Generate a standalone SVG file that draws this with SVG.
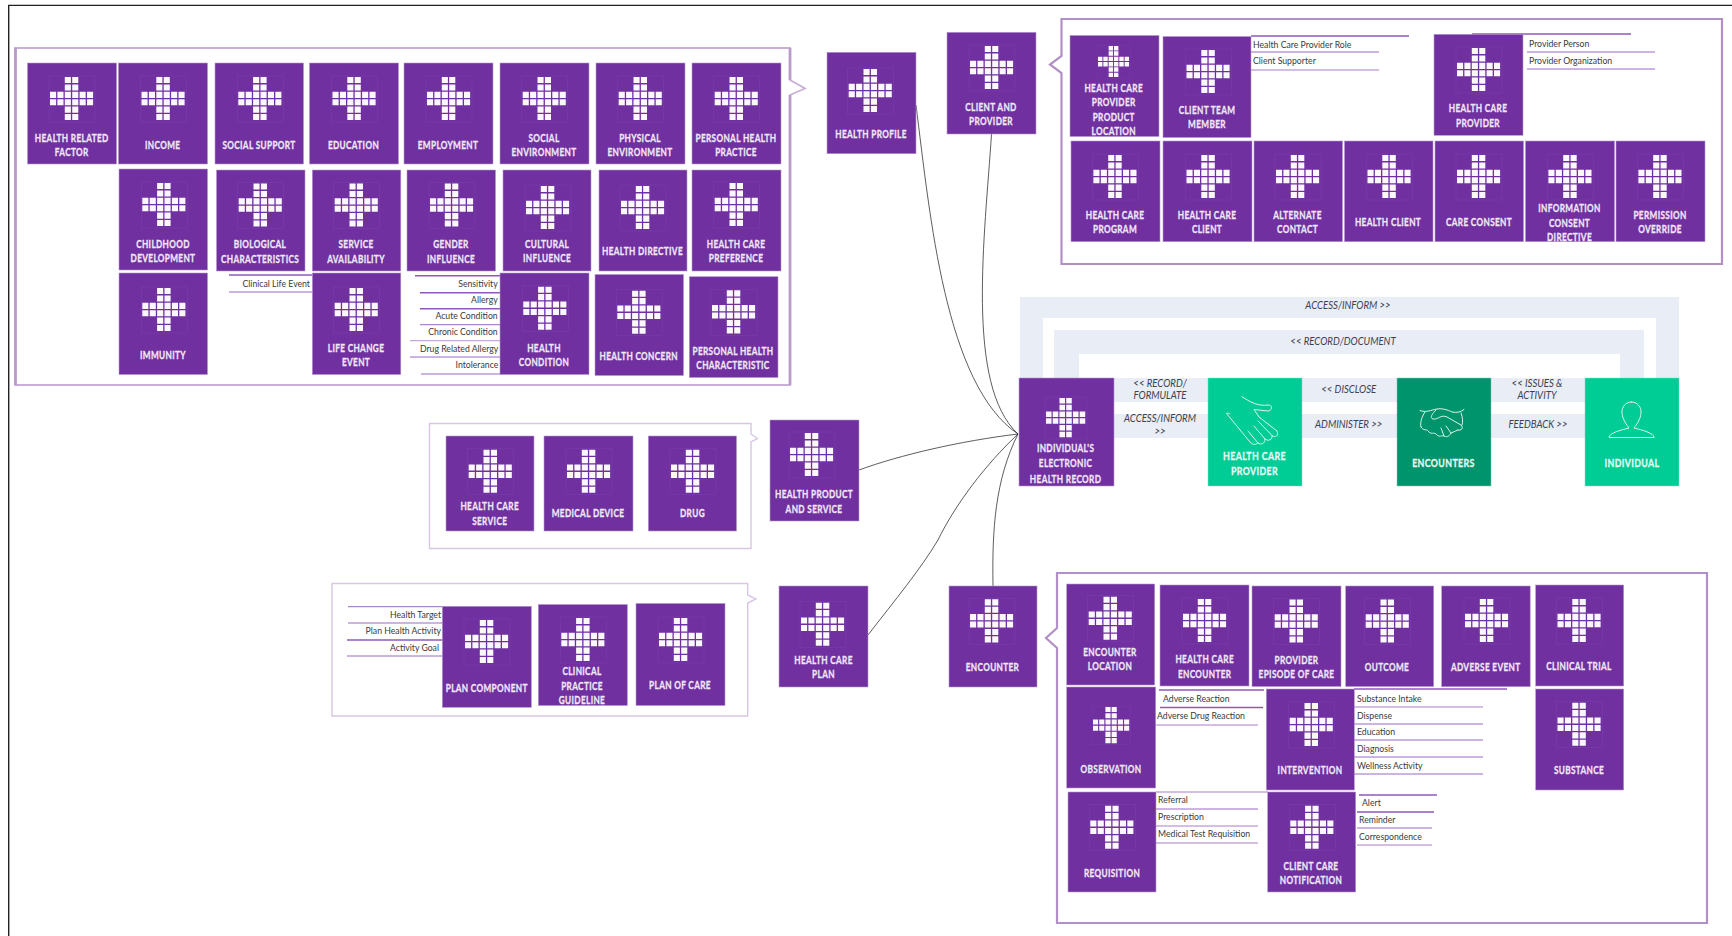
<svg xmlns="http://www.w3.org/2000/svg" width="1732" height="936" viewBox="0 0 1732 936">
<style>
text{font-family:Lato,"Open Sans","Liberation Sans",sans-serif}
.n{fill:#7030a0;stroke:#b598cc;stroke-width:.6}
.g1{fill:#00cc96;stroke:#7fe0c4;stroke-width:.5}
.g2{fill:#00946c;stroke:#7fc9b3;stroke-width:.5}
.t{font-size:11.4px;font-weight:700;fill:#f0e8f6;stroke:#f0e8f6;stroke-width:.3;letter-spacing:.5px;text-anchor:middle}
.t2{font-size:11.6px;font-weight:700;fill:#e8f8f2;stroke:#e8f8f2;stroke-width:.3;letter-spacing:.5px;text-anchor:middle}
.l{font-size:8.7px;fill:#3a3a3a}
.r{text-anchor:end}
.i{font-size:11.3px;font-style:italic;fill:#3b4150;text-anchor:middle}
.ln{stroke:#9b68c4;stroke-width:1;fill:none}
.lt{stroke:#8f58bb;stroke-width:1.6;fill:none}
.ll{stroke:#c6a9dc;stroke-width:1.3;fill:none}
.f1{fill:none;stroke:#b28fc6;stroke-width:2.2}
.f2{fill:none;stroke:#d9c6e3;stroke-width:1.4}
.band{fill:#e9edf6}
.c{fill:none;stroke:#333;stroke-width:.8}
.ic{fill:none;stroke:#d8f5ea;stroke-width:1;stroke-linecap:round;stroke-linejoin:round}
</style>
<defs>
<g id="x">
<rect x="-1" y="-1" width="46" height="46" fill="none" stroke="#7a3fae" stroke-width=".5"/>
<path fill="#fbf8fd" d="M14.8 0h6.100v6.100h-6.100zM22.2 0h6.100v6.100h-6.100zM14.8 7.4h6.100v6.100h-6.100zM22.2 7.4h6.100v6.100h-6.100zM0 14.8h6.100v6.100h-6.100zM7.4 14.8h6.100v6.100h-6.100zM14.8 14.8h6.100v6.100h-6.100zM22.2 14.8h6.100v6.100h-6.100zM29.6 14.8h6.100v6.100h-6.100zM37 14.8h6.100v6.100h-6.100zM0 22.2h6.100v6.100h-6.100zM7.4 22.2h6.100v6.100h-6.100zM14.8 22.2h6.100v6.100h-6.100zM22.2 22.2h6.100v6.100h-6.100zM29.6 22.2h6.100v6.100h-6.100zM37 22.2h6.100v6.100h-6.100zM14.8 29.6h6.100v6.100h-6.100zM22.2 29.6h6.100v6.100h-6.100zM14.8 37h6.100v6.100h-6.100zM22.2 37h6.100v6.100h-6.100z"/>
</g>
</defs>
<rect width="1732" height="936" fill="#fff"/>
<path d="M8.7 936V5.4H1732" fill="none" stroke="#222" stroke-width="1.4"/>

<g id="frames">
<path d="M15 48H790V80L805 88.5L790 95V385H15Z" fill="none" stroke="#c9afd8" stroke-width="1.8"/>
<path d="M15.500 48V385M790 48V80M790 95V385" stroke="#b99ccb" stroke-width="2.8" fill="none"/>
<path class="f2" d="M429.5 423.5H751V434L757.5 438.7L751 442V548.5H429.5Z"/>
<path class="f2" d="M332 583.5H747.7V595L756 599L747.7 603V716H332Z"/>
<path class="f1" d="M1061.5 19H1722V264H1061.5V73L1050 64.5L1061.5 56Z"/>
<path class="f1" d="M1057 573H1707V923H1057V648L1046 638L1057 628Z"/>
</g>

<g id="bands">
<path class="band" d="M1020 297H1679V378H1656V318H1043V378H1020Z"/>
<path class="band" d="M1054 330H1644V378H1620V354H1079V378H1054Z"/>
<rect class="band" x="1114" y="378" width="94" height="24"/>
<rect class="band" x="1114" y="414" width="94" height="24"/>
<rect class="band" x="1302" y="378" width="95" height="24"/>
<rect class="band" x="1302" y="414" width="95" height="24"/>
<rect class="band" x="1491" y="378" width="94" height="24"/>
<rect class="band" x="1491" y="414" width="94" height="24"/>
<g id="band-labels">
<text class="i" transform="translate(1348 309) scale(.85 1)">ACCESS/INFORM &gt;&gt;</text>
<text class="i" transform="translate(1343 345) scale(.85 1)">&lt;&lt; RECORD/DOCUMENT</text>
<text class="i" transform="translate(1160 386.7) scale(.85 1)">&lt;&lt; RECORD/</text>
<text class="i" transform="translate(1160 399) scale(.85 1)">FORMULATE</text>
<text class="i" transform="translate(1160 422) scale(.85 1)">ACCESS/INFORM</text>
<text class="i" transform="translate(1160 434.7) scale(.85 1)">&gt;&gt;</text>
<text class="i" transform="translate(1348.7 393) scale(.85 1)">&lt;&lt; DISCLOSE</text>
<text class="i" transform="translate(1348.7 428) scale(.85 1)">ADMINISTER &gt;&gt;</text>
<text class="i" transform="translate(1537 386.7) scale(.85 1)">&lt;&lt; ISSUES &amp;</text>
<text class="i" transform="translate(1537 399) scale(.85 1)">ACTIVITY</text>
<text class="i" transform="translate(1538 428) scale(.85 1)">FEEDBACK &gt;&gt;</text>
</g>
</g>

<g id="connectors">
<path class="c" d="M916 105C930 215 945 385 1018 434"/>
<path class="c" d="M991.5 134C985 235 965 385 1018 434"/>
<path class="c" d="M859 470C900 455 960 441 1018 434"/>
<path class="c" d="M868 635C895 600 920 570 938 540C955 505 985 465 1018 434"/>
<path class="c" d="M993 586C992 530 995 480 1018 434"/>
</g>

<g id="lists">
<path class="lt" d="M229 275H312"/><path class="ln" d="M229 292H312"/>
<text class="l r" x="310" y="287">Clinical Life Event</text>
<path class="lt" d="M415 275.7H500"/><path class="lt" d="M420 292.7H500M420 308.7H500"/><path class="ln" d="M420 324.7H500"/><path class="ll" d="M410 340.7H500"/><path class="ln" d="M410 357H500M421 374H500"/>
<text class="l r" x="497.7" y="287">Sensitivity</text>
<text class="l r" x="497.7" y="303">Allergy</text>
<text class="l r" x="497.7" y="319">Acute Condition</text>
<text class="l r" x="497.7" y="335">Chronic Condition</text>
<text class="l r" x="498.3" y="352">Drug Related Allergy</text>
<text class="l r" x="498.3" y="368">Intolerance</text>
<path class="ln" d="M348 606.7H442M348 623H442M347 656H442"/><path class="lt" d="M347 640H442"/>
<text class="l r" x="441" y="617.7">Health Target</text>
<text class="l r" x="441" y="634">Plan Health Activity</text>
<text class="l r" x="439" y="651">Activity Goal</text>
<path class="lt" d="M1251 36H1409"/><path class="ln" d="M1251 52H1379"/><path class="ll" d="M1251 70H1379"/>
<text class="l" x="1253" y="48">Health Care Provider Role</text>
<text class="l" x="1253" y="64">Client Supporter</text>
<path class="lt" d="M1472 34H1631"/><path class="ln" d="M1527 52H1655M1527 69H1655"/>
<text class="l" x="1529" y="47">Provider Person</text>
<text class="l" x="1529" y="64">Provider Organization</text>
<path class="lt" d="M1159 690H1264M1160 707.5H1263"/><path class="ll" d="M1156 725H1258"/>
<text class="l" x="1163" y="702">Adverse Reaction</text>
<text class="l" x="1157" y="719">Adverse Drug Reaction</text>
<path class="lt" d="M1354 689H1507"/><path class="ll" d="M1354 707H1483"/><path class="ln" d="M1354 724H1483M1354 740H1483M1354 757H1483M1354 774H1483"/>
<text class="l" x="1357" y="702">Substance Intake</text>
<text class="l" x="1357" y="719">Dispense</text>
<text class="l" x="1357" y="735">Education</text>
<text class="l" x="1357" y="752">Diagnosis</text>
<text class="l" x="1357" y="769">Wellness Activity</text>
<path class="ll" d="M1156 792H1268"/><path class="ln" d="M1156 809H1258"/><path class="ll" d="M1156 826H1258M1156 843H1258"/>
<text class="l" x="1158" y="803">Referral</text>
<text class="l" x="1158" y="820">Prescription</text>
<text class="l" x="1158" y="837">Medical Test Requisition</text>
<path class="lt" d="M1359 795H1437" stroke-width="2"/><path class="lt" d="M1357 812H1434"/><path class="ln" d="M1357 828H1432"/><path class="ll" d="M1357 845H1432"/>
<text class="l" x="1362" y="806">Alert</text>
<text class="l" x="1359" y="823">Reminder</text>
<text class="l" x="1359" y="840">Correspondence</text>
</g>

<g id="n-health-related-factor"><rect class="n" x="27.5" y="63" width="89" height="101"/><use href="#x" x="50" y="77"/><text class="t" transform="translate(71.7 141.7) scale(.72 1)">HEALTH RELATED</text><text class="t" transform="translate(71.7 156) scale(.72 1)">FACTOR</text></g>
<g id="n-income"><rect class="n" x="118.5" y="63" width="89" height="101"/><use href="#x" x="141.5" y="77"/><text class="t" transform="translate(162.7 149) scale(.72 1)">INCOME</text></g>
<g id="n-social-support"><rect class="n" x="215" y="63" width="88.5" height="101"/><use href="#x" x="238.3" y="77"/><text class="t" transform="translate(259 149) scale(.72 1)">SOCIAL SUPPORT</text></g>
<g id="n-education"><rect class="n" x="309.5" y="63" width="89" height="101"/><use href="#x" x="332.5" y="77"/><text class="t" transform="translate(353.5 149) scale(.72 1)">EDUCATION</text></g>
<g id="n-employment"><rect class="n" x="404" y="63" width="89" height="101"/><use href="#x" x="427" y="77"/><text class="t" transform="translate(448 149) scale(.72 1)">EMPLOYMENT</text></g>
<g id="n-social-environment"><rect class="n" x="500" y="63" width="89" height="101"/><use href="#x" x="522.7" y="77"/><text class="t" transform="translate(544 141.7) scale(.72 1)">SOCIAL</text><text class="t" transform="translate(544 156) scale(.72 1)">ENVIRONMENT</text></g>
<g id="n-physical-environment"><rect class="n" x="596" y="63" width="89" height="101"/><use href="#x" x="618.7" y="77"/><text class="t" transform="translate(640 141.7) scale(.72 1)">PHYSICAL</text><text class="t" transform="translate(640 156) scale(.72 1)">ENVIRONMENT</text></g>
<g id="n-personal-health-practice"><rect class="n" x="692" y="63" width="89" height="101"/><use href="#x" x="714.7" y="77"/><text class="t" transform="translate(736 141.7) scale(.72 1)">PERSONAL HEALTH</text><text class="t" transform="translate(736 156) scale(.72 1)">PRACTICE</text></g>

<g id="n-childhood-development"><rect class="n" x="119" y="169" width="88.5" height="101"/><use href="#x" x="142.3" y="183"/><text class="t" transform="translate(163 248) scale(.72 1)">CHILDHOOD</text><text class="t" transform="translate(163 262) scale(.72 1)">DEVELOPMENT</text></g>
<g id="n-biological-characteristics"><rect class="n" x="216.5" y="170" width="88.5" height="101"/><use href="#x" x="238.7" y="183.5"/><text class="t" transform="translate(260 248.3) scale(.72 1)">BIOLOGICAL</text><text class="t" transform="translate(260 262.5) scale(.72 1)">CHARACTERISTICS</text></g>
<g id="n-service-availability"><rect class="n" x="312.3" y="170" width="88.5" height="101"/><use href="#x" x="334.7" y="183.5"/><text class="t" transform="translate(356 248.3) scale(.72 1)">SERVICE</text><text class="t" transform="translate(356 262.5) scale(.72 1)">AVAILABILITY</text></g>
<g id="n-gender-influence"><rect class="n" x="407" y="170" width="88.5" height="101"/><use href="#x" x="430" y="183.5"/><text class="t" transform="translate(451 248.3) scale(.72 1)">GENDER</text><text class="t" transform="translate(451 262.5) scale(.72 1)">INFLUENCE</text></g>
<g id="n-cultural-influence"><rect class="n" x="503" y="170" width="88" height="101"/><use href="#x" x="526" y="186"/><text class="t" transform="translate(547 248) scale(.72 1)">CULTURAL</text><text class="t" transform="translate(547 262.3) scale(.72 1)">INFLUENCE</text></g>
<g id="n-health-directive"><rect class="n" x="599" y="170" width="88" height="101"/><use href="#x" x="621" y="186"/><text class="t" transform="translate(642.5 255) scale(.72 1)">HEALTH DIRECTIVE</text></g>
<g id="n-health-care-preference"><rect class="n" x="692" y="170" width="89" height="101"/><use href="#x" x="714.7" y="183"/><text class="t" transform="translate(736 248) scale(.72 1)">HEALTH CARE</text><text class="t" transform="translate(736 262.3) scale(.72 1)">PREFERENCE</text></g>

<g id="n-immunity"><rect class="n" x="119" y="273" width="88.5" height="101.5"/><use href="#x" x="142.3" y="288"/><text class="t" transform="translate(163 358.7) scale(.72 1)">IMMUNITY</text></g>
<g id="n-life-change-event"><rect class="n" x="312.3" y="273" width="88.5" height="101.5"/><use href="#x" x="334.7" y="288"/><text class="t" transform="translate(356 351.5) scale(.72 1)">LIFE CHANGE</text><text class="t" transform="translate(356 366) scale(.72 1)">EVENT</text></g>
<g id="n-health-condition"><rect class="n" x="500" y="273" width="89" height="101.5"/><use href="#x" x="523.3" y="286.7"/><text class="t" transform="translate(544 351.7) scale(.72 1)">HEALTH</text><text class="t" transform="translate(544 366) scale(.72 1)">CONDITION</text></g>
<g id="n-health-concern"><rect class="n" x="595" y="274.5" width="88.5" height="101"/><use href="#x" x="617.3" y="290.7"/><text class="t" transform="translate(638.7 360) scale(.72 1)">HEALTH CONCERN</text></g>
<g id="n-personal-health-characteristic"><rect class="n" x="689.3" y="276.7" width="88.7" height="100.8"/><use href="#x" x="712" y="290.3"/><text class="t" transform="translate(733 355) scale(.72 1)">PERSONAL HEALTH</text><text class="t" transform="translate(733 369) scale(.72 1)">CHARACTERISTIC</text></g>

<g id="n-health-care-service"><rect class="n" x="446" y="436" width="88" height="95"/><use href="#x" x="468.7" y="449.7"/><text class="t" transform="translate(489.7 510) scale(.72 1)">HEALTH CARE</text><text class="t" transform="translate(489.7 524.5) scale(.72 1)">SERVICE</text></g>
<g id="n-medical-device"><rect class="n" x="544" y="436" width="89" height="95"/><use href="#x" x="567" y="449.7"/><text class="t" transform="translate(588 516.7) scale(.72 1)">MEDICAL DEVICE</text></g>
<g id="n-drug"><rect class="n" x="648.3" y="436" width="88.2" height="95"/><use href="#x" x="671" y="449.7"/><text class="t" transform="translate(692.5 516.7) scale(.72 1)">DRUG</text></g>
<g id="n-health-product-and-service"><rect class="n" x="770" y="420" width="89" height="101"/><use href="#x" x="790" y="433"/><text class="t" transform="translate(814 498) scale(.72 1)">HEALTH PRODUCT</text><text class="t" transform="translate(814 512.7) scale(.72 1)">AND SERVICE</text></g>

<g id="n-plan-component"><rect class="n" x="442.3" y="606.3" width="89" height="101"/><use href="#x" x="465" y="620"/><text class="t" transform="translate(486.7 691.7) scale(.72 1)">PLAN COMPONENT</text></g>
<g id="n-clinical-practice-guideline"><rect class="n" x="538.3" y="604.5" width="89" height="101"/><use href="#x" x="561.3" y="618"/><text class="t" transform="translate(582 675) scale(.72 1)">CLINICAL</text><text class="t" transform="translate(582 690) scale(.72 1)">PRACTICE</text><text class="t" transform="translate(582 704) scale(.72 1)">GUIDELINE</text></g>
<g id="n-plan-of-care"><rect class="n" x="636" y="603.5" width="89" height="102"/><use href="#x" x="659" y="618"/><text class="t" transform="translate(680 689) scale(.72 1)">PLAN OF CARE</text></g>
<g id="n-health-care-plan"><rect class="n" x="779" y="586" width="89" height="101"/><use href="#x" x="801" y="602.7"/><text class="t" transform="translate(823.5 664) scale(.72 1)">HEALTH CARE</text><text class="t" transform="translate(823.5 678) scale(.72 1)">PLAN</text></g>
<g id="n-encounter"><rect class="n" x="949" y="586" width="88" height="101"/><use href="#x" x="970" y="599.3"/><text class="t" transform="translate(992.5 671) scale(.72 1)">ENCOUNTER</text></g>
<g id="n-health-profile"><rect class="n" x="827" y="52.3" width="89" height="101.4"/><use href="#x" x="848.7" y="69"/><text class="t" transform="translate(871 137.5) scale(.72 1)">HEALTH PROFILE</text></g>
<g id="n-client-and-provider"><rect class="n" x="947" y="32.3" width="89" height="101.7"/><use href="#x" x="970" y="46"/><text class="t" transform="translate(991 110.7) scale(.72 1)">CLIENT AND</text><text class="t" transform="translate(991 124.7) scale(.72 1)">PROVIDER</text></g>

<g id="n-health-care-provider-product-location"><rect class="n" x="1070" y="35.5" width="89" height="101"/><use href="#x" transform="translate(1098 46) scale(.72)"/><text class="t" transform="translate(1113.7 92) scale(.72 1)">HEALTH CARE</text><text class="t" transform="translate(1113.7 106.3) scale(.72 1)">PROVIDER</text><text class="t" transform="translate(1113.7 120.7) scale(.72 1)">PRODUCT</text><text class="t" transform="translate(1113.7 135) scale(.72 1)">LOCATION</text></g>
<g id="n-client-team-member"><rect class="n" x="1163" y="36.5" width="88" height="101"/><use href="#x" x="1186.5" y="50"/><text class="t" transform="translate(1207 113.7) scale(.72 1)">CLIENT TEAM</text><text class="t" transform="translate(1207 128) scale(.72 1)">MEMBER</text></g>
<g id="n-health-care-provider-role"><rect class="n" x="1434" y="34.3" width="89" height="101"/><use href="#x" x="1457" y="48"/><text class="t" transform="translate(1478 112) scale(.72 1)">HEALTH CARE</text><text class="t" transform="translate(1478 126.5) scale(.72 1)">PROVIDER</text></g>
<g id="n-health-care-program"><rect class="n" x="1071" y="141" width="89" height="100.7"/><use href="#x" x="1093.4" y="155"/><text class="t" transform="translate(1115 219) scale(.72 1)">HEALTH CARE</text><text class="t" transform="translate(1115 233) scale(.72 1)">PROGRAM</text></g>
<g id="n-health-care-client"><rect class="n" x="1163" y="141" width="89" height="100.7"/><use href="#x" x="1186.5" y="155"/><text class="t" transform="translate(1207 219) scale(.72 1)">HEALTH CARE</text><text class="t" transform="translate(1207 233) scale(.72 1)">CLIENT</text></g>
<g id="n-alternate-contact"><rect class="n" x="1254" y="141" width="88.5" height="100.7"/><use href="#x" x="1276" y="155"/><text class="t" transform="translate(1297.5 219) scale(.72 1)">ALTERNATE</text><text class="t" transform="translate(1297.5 233) scale(.72 1)">CONTACT</text></g>
<g id="n-health-client"><rect class="n" x="1344.5" y="141" width="88.5" height="100.7"/><use href="#x" x="1367.5" y="155"/><text class="t" transform="translate(1388 226) scale(.72 1)">HEALTH CLIENT</text></g>
<g id="n-care-consent"><rect class="n" x="1435" y="141" width="88.5" height="100.7"/><use href="#x" x="1457" y="155"/><text class="t" transform="translate(1479 226) scale(.72 1)">CARE CONSENT</text></g>
<g id="n-information-consent-directive"><rect class="n" x="1525.5" y="141" width="89" height="100.7"/><use href="#x" x="1548.4" y="155"/><text class="t" transform="translate(1569.5 212) scale(.72 1)">INFORMATION</text><text class="t" transform="translate(1569.5 226.5) scale(.72 1)">CONSENT</text><text class="t" transform="translate(1569.5 241) scale(.72 1)">DIRECTIVE</text></g>
<g id="n-permission-override"><rect class="n" x="1616" y="141" width="89" height="100.7"/><use href="#x" x="1638.4" y="155"/><text class="t" transform="translate(1660 219) scale(.72 1)">PERMISSION</text><text class="t" transform="translate(1660 233) scale(.72 1)">OVERRIDE</text></g>

<g id="n-encounter-location"><rect class="n" x="1066.7" y="584" width="88" height="101"/><use href="#x" x="1088.7" y="596.7"/><text class="t" transform="translate(1110 655.7) scale(.72 1)">ENCOUNTER</text><text class="t" transform="translate(1110 669.7) scale(.72 1)">LOCATION</text></g>
<g id="n-health-care-encounter"><rect class="n" x="1160" y="585" width="89" height="101"/><use href="#x" x="1183" y="599"/><text class="t" transform="translate(1204.7 663.3) scale(.72 1)">HEALTH CARE</text><text class="t" transform="translate(1204.7 677.7) scale(.72 1)">ENCOUNTER</text></g>
<g id="n-provider-episode-of-care"><rect class="n" x="1252" y="586" width="89" height="100.5"/><use href="#x" x="1274.7" y="599.5"/><text class="t" transform="translate(1296.5 663.7) scale(.72 1)">PROVIDER</text><text class="t" transform="translate(1296.5 678) scale(.72 1)">EPISODE OF CARE</text></g>
<g id="n-outcome"><rect class="n" x="1345.7" y="586" width="88" height="100.5"/><use href="#x" x="1365.7" y="599.5"/><text class="t" transform="translate(1387 671) scale(.72 1)">OUTCOME</text></g>
<g id="n-adverse-event"><rect class="n" x="1441.7" y="586" width="88.5" height="100.7"/><use href="#x" x="1465" y="599"/><text class="t" transform="translate(1485.7 671) scale(.72 1)">ADVERSE EVENT</text></g>
<g id="n-clinical-trial"><rect class="n" x="1535.7" y="585" width="88" height="101"/><use href="#x" x="1557.5" y="599"/><text class="t" transform="translate(1579 670) scale(.72 1)">CLINICAL TRIAL</text></g>
<g id="n-observation"><rect class="n" x="1066.7" y="687" width="89" height="101"/><use href="#x" transform="translate(1093 707) scale(.84)"/><text class="t" transform="translate(1111 772.7) scale(.72 1)">OBSERVATION</text></g>
<g id="n-intervention"><rect class="n" x="1266.3" y="689" width="88" height="101"/><use href="#x" x="1289.7" y="703"/><text class="t" transform="translate(1310 774.3) scale(.72 1)">INTERVENTION</text></g>
<g id="n-substance"><rect class="n" x="1535.7" y="689" width="88" height="101"/><use href="#x" x="1557.5" y="702.7"/><text class="t" transform="translate(1579 774) scale(.72 1)">SUBSTANCE</text></g>
<g id="n-requisition"><rect class="n" x="1068" y="792" width="88" height="100"/><use href="#x" x="1090.3" y="805.7"/><text class="t" transform="translate(1112 876.7) scale(.72 1)">REQUISITION</text></g>
<g id="n-client-care-notification"><rect class="n" x="1267.7" y="792" width="88" height="100"/><use href="#x" x="1290.3" y="805.7"/><text class="t" transform="translate(1311 869.7) scale(.72 1)">CLIENT CARE</text><text class="t" transform="translate(1311 883.7) scale(.72 1)">NOTIFICATION</text></g>

<g id="n-individuals-ehr"><rect class="n" x="1019" y="378" width="95" height="108"/><use href="#x" transform="translate(1046 398) scale(.91)"/><text class="t" transform="translate(1065.6 451.7) scale(.72 1)">INDIVIDUAL'S</text><text class="t" transform="translate(1065.6 467) scale(.72 1)">ELECTRONIC</text><text class="t" transform="translate(1065.6 483) scale(.72 1)">HEALTH RECORD</text></g>
<g id="n-health-care-provider"><rect class="g1" x="1208" y="378" width="94" height="108"/><path class="ic" d="M1242 396.7C1250 402 1258 406.500 1268 405C1273 404.500 1272.500 410.500 1268 411L1254 409.500L1259 417L1277 431C1279 436 1275 438 1272 435.500L1258 421M1272 435.500C1273 440 1268 441.500 1265 439L1254 426M1265 439C1265 444 1261 445 1258 443L1248 431M1258 443C1254 445.500 1253 444.500 1250 442L1226.500 413.500C1228 413 1229 413 1230 414"/><text class="t2" transform="translate(1254.5 460) scale(.76 1)">HEALTH CARE</text><text class="t2" transform="translate(1254.5 475) scale(.76 1)">PROVIDER</text></g>
<g id="n-encounters"><rect class="g2" x="1397" y="378" width="94" height="108"/><path class="ic" d="M1420 410.500C1426 413 1431 410 1437 409C1442 408 1448 410 1452 412C1457 413 1461 412 1464 409.500M1425 412C1421 418 1420 423 1421 427M1436 410C1431 415 1430 418 1433 419C1438 420 1441 414 1447 417L1461 425C1464 428 1461 431 1458 430M1461 413C1463 418 1463 422 1462 425M1421 427C1423 431 1427 429 1428 431C1431 435 1434 432 1436 434C1439 438 1442 435 1444 436C1448 438 1450 435 1451 433L1458 430M1446 426L1451 433M1441 428L1444 436"/><text class="t2" transform="translate(1443.5 467) scale(.76 1)">ENCOUNTERS</text></g>
<g id="n-individual"><rect class="g1" x="1585" y="378" width="94" height="108"/><path class="ic" d="M1631.500 402C1637.500 402 1641.500 407 1641 413C1640.500 420 1636 425 1634 428C1642 430 1654 433 1654 437.500H1609C1609 433 1621 430 1629 428C1627 425 1622.500 420 1622 413C1621.500 407 1625.500 402 1631.500 402Z"/><text class="t2" transform="translate(1632 467) scale(.76 1)">INDIVIDUAL</text></g>
</svg>
